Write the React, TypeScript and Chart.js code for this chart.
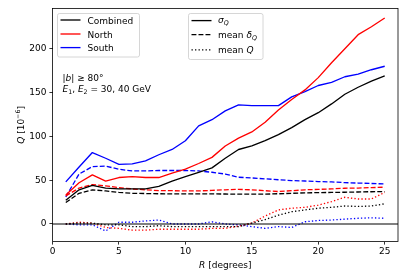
import React, { useEffect, useRef } from "react";
import { Chart, registerables } from "chart.js";
Chart.register(...registerables);

// ---- data ----
const R = [1, 2, 3, 4, 5, 6, 7, 8, 9, 10, 11, 12, 13, 14, 15, 16, 17, 18, 19, 20, 21, 22, 23, 24, 25];

const combinedSigma = [27, 39, 44, 41, 40, 40, 40, 43, 49, 54, 59, 64, 75, 85, 89, 95, 102, 110, 119, 127, 137, 148, 156, 163, 169];
const northSigma = [33, 47, 56, 49, 53, 54, 53, 53, 58, 62.5, 69, 76, 89, 98, 105, 116, 130, 142, 153, 167, 184, 200, 216, 225, 235];
const southSigma = [48, 65, 81.5, 75, 68, 68.5, 72, 79, 85, 95, 112, 119, 129, 136, 135, 135, 135, 145, 151, 158, 161.5, 168, 171, 176, 180];

const combinedMeanDelta = [24.5, 35, 39, 37.7, 36, 35, 34.7, 34.5, 34.3, 34.3, 34.3, 34.3, 34.2, 34, 34, 34, 34.5, 35, 35.5, 35.8, 36, 36.2, 36.5, 36.8, 37];
const northMeanDelta = [32, 41, 45, 43.5, 41.5, 40, 39, 38, 38, 37.7, 37.7, 38.3, 39, 39.5, 39, 38, 37, 38, 39, 39.5, 40, 40.8, 41, 41.5, 42];
const southMeanDelta = [31, 57, 65.5, 66, 62.5, 60.5, 60.5, 61, 61, 61, 60.5, 59, 57, 53.3, 52.5, 51.5, 50.5, 49.5, 49, 48.4, 48, 47.2, 46.7, 46.2, 45.7];

const combinedMeanQ = [0, 1, 1, -1, -1, -3, -3, -2, -3, -3, -3, -3, -3, -3, 1, 5, 10, 14, 16, 18, 19, 20.5, 20, 20.5, 23];
const northMeanQ = [0, 2, 1, -4, -5, -7, -7, -6, -6, -6, -6, -5, -5, -2.5, 1, 9, 16, 18, 19, 21.5, 25.5, 30.5, 28.5, 28.5, 36];
const southMeanQ = [0, -1, -1, -8, 2, 2, 3.5, 4.5, 0, 0, 0, 2.5, 0, -1, -3, -5, -3, -4, 2.5, 4, 4.5, 5.5, 6.5, 7, 6.5];

const xTicks = [0, 5, 10, 15, 20, 25];
const yTicks = [0, 50, 100, 150, 200];
const xRange = [0, 26];
const yRange = [-20, 246];

const seriesLabels = ["Combined", "North", "South"];
const seriesColors = ["#000000", "#ff0000", "#0000ff"];

// ---- styling ----
const FONT = "DejaVu Sans";
const FS = 9;
const LW = 1.33;
const DASH = [4.9, 2.1];
const DOT = [1.32, 2.19];

type Seg = { t: string; it?: boolean; sub?: boolean; sup?: boolean };

function richWidth(ctx: CanvasRenderingContext2D, segs: Seg[], size: number) {
  let w = 0;
  for (const s of segs) {
    const sz = s.sub || s.sup ? size * 0.7 : size;
    ctx.font = `${s.it ? "italic " : ""}${sz}px "${FONT}"`;
    w += ctx.measureText(s.t).width;
  }
  return w;
}

function drawRich(ctx: CanvasRenderingContext2D, segs: Seg[], x: number, y: number, size: number, align: "left" | "center" = "left") {
  const w = richWidth(ctx, segs, size);
  let cx = align === "center" ? x - w / 2 : x;
  ctx.textAlign = "left";
  ctx.textBaseline = "alphabetic";
  ctx.fillStyle = "#000";
  for (const s of segs) {
    const sz = s.sub || s.sup ? size * 0.7 : size;
    ctx.font = `${s.it ? "italic " : ""}${sz}px "${FONT}"`;
    const dy = s.sub ? size * 0.22 : s.sup ? -size * 0.42 : 0;
    ctx.fillText(s.t, cx, y + dy);
    cx += ctx.measureText(s.t).width;
  }
}

const decorPlugin = {
  id: "decor",
  afterDatasetsDraw(chart: any) {
    const { ctx, chartArea: a, scales } = chart;
    // zero line
    const y0 = scales.y.getPixelForValue(0);
    ctx.save();
    ctx.strokeStyle = "#000";
    ctx.lineWidth = 1.1;
    ctx.beginPath();
    ctx.moveTo(a.left, y0);
    ctx.lineTo(a.right, y0);
    ctx.stroke();
    // frame
    ctx.lineWidth = 0.8;
    ctx.strokeStyle = "#000";
    ctx.strokeRect(a.left, a.top, a.right - a.left, a.bottom - a.top);
    ctx.restore();
  },
  afterDraw(chart: any) {
    const { ctx, chartArea: a } = chart;
    ctx.save();
    // axis titles
    drawRich(ctx, [{ t: "R", it: true }, { t: " [degrees]" }], (a.left + a.right) / 2, 268, FS, "center");
    ctx.save();
    ctx.translate(20, (a.top + a.bottom) / 2);
    ctx.rotate(-Math.PI / 2);
    drawRich(ctx, [{ t: "Q", it: true }, { t: " [10" }, { t: "\u22126", sup: true }, { t: "]" }], 0, 3.5, FS, "center");
    ctx.restore();

    // annotation
    drawRich(ctx, [{ t: "|" }, { t: "b", it: true }, { t: "| \u2265 80" }, { t: "\u00b0", sup: false }], 62.5, 81, FS);
    drawRich(
      ctx,
      [
        { t: "E", it: true },
        { t: "1", sub: true },
        { t: ", " },
        { t: "E", it: true },
        { t: "2", sub: true },
        { t: " = 30, 40 GeV" },
      ],
      62.5,
      91.7,
      FS
    );

    // legend boxes
    const box = (x: number, y: number, w: number, h: number) => {
      ctx.beginPath();
      (ctx as any).roundRect(x, y, w, h, 2);
      ctx.fillStyle = "rgba(255,255,255,0.8)";
      ctx.fill();
      ctx.strokeStyle = "#cccccc";
      ctx.lineWidth = 0.8;
      ctx.stroke();
    };
    const handle = (x1: number, x2: number, y: number, color: string, dash: number[]) => {
      ctx.beginPath();
      ctx.setLineDash(dash);
      ctx.strokeStyle = color;
      ctx.lineWidth = LW;
      ctx.lineCap = "butt";
      ctx.moveTo(x1, y);
      ctx.lineTo(x2, y);
      ctx.stroke();
      ctx.setLineDash([]);
    };

    box(57.5, 13.5, 82, 43.5);
    const rows1 = [20, 34, 47.6];
    seriesLabels.forEach((lab, i) => {
      handle(60.5, 80.5, rows1[i], seriesColors[i], []);
      drawRich(ctx, [{ t: lab }], 87.5, rows1[i] + 3.6, FS);
    });

    box(188.5, 13.5, 74.5, 46);
    const rows2 = [20.6, 34.6, 49.8];
    handle(191.5, 211.5, rows2[0], "#000", []);
    drawRich(ctx, [{ t: "\u03c3", it: true }, { t: "Q", it: true, sub: true }], 218, 22.8, FS);
    handle(191.5, 211.5, rows2[1], "#000", DASH);
    drawRich(ctx, [{ t: "mean " }, { t: "\u03b4", it: true }, { t: "Q", it: true, sub: true }], 218, 37.6, FS);
    handle(191.5, 211.5, rows2[2], "#000", DOT);
    drawRich(ctx, [{ t: "mean " }, { t: "Q", it: true }], 218, 52.6, FS);
    ctx.restore();
  },
};

function mk(values: number[], color: string, dash: number[]) {
  return {
    data: R.map((r, i) => ({ x: r, y: values[i] })),
    borderColor: color,
    backgroundColor: color,
    borderWidth: LW,
    borderDash: dash,
    borderCapStyle: "butt" as const,
    borderJoinStyle: "round" as const,
    pointRadius: 0,
    fill: false,
    tension: 0,
  };
}

export default function App() {
  const ref = useRef<HTMLCanvasElement>(null);
  useEffect(() => {
    document.body.style.margin = "0";
    const canvas = ref.current!;
    const chart = new Chart(canvas, {
      type: "line",
      data: {
        datasets: [
          mk(combinedSigma, seriesColors[0], []),
          mk(combinedMeanDelta, seriesColors[0], DASH),
          mk(combinedMeanQ, seriesColors[0], DOT),
          mk(northSigma, seriesColors[1], []),
          mk(northMeanDelta, seriesColors[1], DASH),
          mk(northMeanQ, seriesColors[1], DOT),
          mk(southSigma, seriesColors[2], []),
          mk(southMeanDelta, seriesColors[2], DASH),
          mk(southMeanQ, seriesColors[2], DOT),
        ],
      },
      options: {
        animation: false,
        responsive: false,
        devicePixelRatio: 1,
        layout: { padding: { top: 8, right: 9, left: 0, bottom: 0 } },
        plugins: { legend: { display: false }, tooltip: { enabled: false }, title: { display: false } },
        scales: {
          x: {
            type: "linear",
            min: xRange[0],
            max: xRange[1],
            afterBuildTicks: (s: any) => {
              s.ticks = xTicks.map((v) => ({ value: v }));
            },
            afterFit: (s: any) => {
              s.height = 29.5;
            },
            ticks: { font: { family: FONT, size: FS }, color: "#000", padding: 2, maxRotation: 0, autoSkip: false },
            grid: { drawOnChartArea: false, drawTicks: true, tickLength: 3.1, color: "#000", lineWidth: 0.8 },
            border: { display: false },
          },
          y: {
            type: "linear",
            min: yRange[0],
            max: yRange[1],
            afterBuildTicks: (s: any) => {
              s.ticks = yTicks.map((v) => ({ value: v }));
            },
            afterFit: (s: any) => {
              s.width = 52.5;
            },
            ticks: { font: { family: FONT, size: FS }, color: "#000", padding: 3, autoSkip: false },
            grid: { drawOnChartArea: false, drawTicks: true, tickLength: 3.1, color: "#000", lineWidth: 0.8 },
            border: { display: false },
          },
        },
      },
      plugins: [decorPlugin],
    } as any);
    return () => chart.destroy();
  }, []);
  return (
    <div style={{ width: 407, height: 271 }}>
      <canvas ref={ref} width={407} height={271} />
    </div>
  );
}
